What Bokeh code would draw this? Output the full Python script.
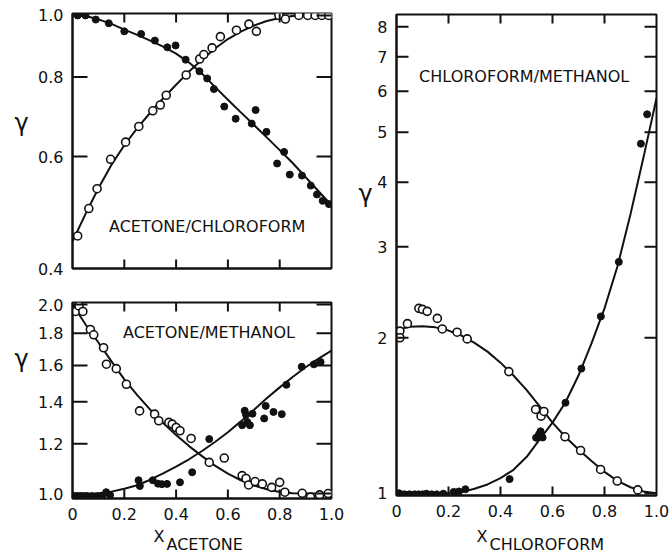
import math

from bokeh.embed import file_html
from bokeh.layouts import column, row
from bokeh.models import FixedTicker, Label, Range1d
from bokeh.plotting import figure
from bokeh.resources import INLINE

FONT = "DejaVu Sans"
INK = "#111111"

# ---- shared x axis (mole fraction) ----
x_ticks = [0, 0.2, 0.4, 0.6, 0.8, 1.0]
x_tick_labels = ["0", "0.2", "0.4", "0.6", "0.8", "1.0"]

# ---- acetone / chloroform (x = mole fraction acetone) ----
ac_open_x = [0.02, 0.063, 0.095, 0.147, 0.205, 0.256, 0.31, 0.339, 0.362, 0.439,
             0.491, 0.507, 0.539, 0.571, 0.633, 0.681, 0.71,
             0.797, 0.822, 0.874, 0.908, 0.937, 0.963, 0.989]
ac_open_y = [0.450, 0.497, 0.534, 0.594, 0.632, 0.669, 0.708, 0.723, 0.749, 0.806,
             0.854, 0.868, 0.889, 0.926, 0.948, 0.969, 0.944,
             1.0, 0.987, 1.0, 1.0, 1.0, 1.0, 1.0]
ac_fill_x = [0.02, 0.05, 0.09, 0.14, 0.20, 0.265, 0.318, 0.366, 0.398, 0.437,
             0.49, 0.52, 0.546, 0.586, 0.63, 0.692, 0.707, 0.749, 0.79, 0.817,
             0.839, 0.886, 0.92, 0.944, 0.966, 0.99]
ac_fill_y = [1.0, 1.0, 0.985, 0.972, 0.944, 0.935, 0.913, 0.891, 0.897, 0.852,
             0.817, 0.796, 0.766, 0.719, 0.688, 0.676, 0.710, 0.656, 0.585, 0.610,
             0.562, 0.560, 0.540, 0.523, 0.511, 0.505]
ac_curve_x = [0, 0.05, 0.1, 0.15, 0.2, 0.25, 0.3, 0.35, 0.4, 0.45, 0.5,
              0.55, 0.6, 0.65, 0.7, 0.75, 0.8, 0.85, 0.9, 0.95, 1.0]
ac_curve_open = [0.441, 0.487, 0.535, 0.582, 0.625, 0.665, 0.703, 0.741, 0.778, 0.816, 0.852,
                 0.887, 0.918, 0.943, 0.964, 0.980, 0.991, 0.998, 1.0, 1.0, 1.0]
ac_curve_fill = [1.0, 0.998, 0.986, 0.970, 0.950, 0.932, 0.913, 0.893, 0.871, 0.843, 0.810,
                 0.772, 0.737, 0.704, 0.673, 0.643, 0.614, 0.586, 0.557, 0.529, 0.503]

# ---- acetone / methanol (x = mole fraction acetone) ----
am_open_x = [0.012, 0.025, 0.04, 0.069, 0.082, 0.12, 0.131, 0.169, 0.208, 0.259,
             0.317, 0.333, 0.372, 0.385, 0.40, 0.415, 0.458, 0.528, 0.586, 0.655,
             0.67, 0.68, 0.705, 0.733, 0.769, 0.80, 0.82, 0.887, 0.919, 0.954, 0.987]
am_open_y = [1.95, 1.99, 1.95, 1.825, 1.79, 1.707, 1.607, 1.581, 1.493, 1.354,
             1.338, 1.306, 1.298, 1.29, 1.274, 1.259, 1.224, 1.121, 1.139, 1.068,
             1.057, 1.032, 1.045, 1.036, 1.023, 1.042, 1.005, 1.001, 0.987, 0.995, 1.0]
am_fill_x = [0.005, 0.02, 0.035, 0.055, 0.075, 0.095, 0.115, 0.13, 0.145, 0.255,
             0.26, 0.31, 0.33, 0.345, 0.365, 0.415, 0.462, 0.528, 0.655, 0.665,
             0.67, 0.675, 0.685, 0.695, 0.74, 0.746, 0.776, 0.808, 0.826, 0.885,
             0.932, 0.958]
am_fill_y = [0.99, 0.99, 0.99, 0.99, 0.99, 0.99, 0.99, 1.005, 0.995, 1.05,
             1.028, 1.05, 1.037, 1.035, 1.036, 1.042, 1.081, 1.221, 1.285, 1.355,
             1.335, 1.30, 1.285, 1.34, 1.317, 1.379, 1.349, 1.338, 1.49, 1.592,
             1.606, 1.62]
am_curve_x = ac_curve_x
am_curve_open = [2.0, 1.86, 1.74, 1.625, 1.52, 1.435, 1.36, 1.295, 1.24, 1.19, 1.147,
                 1.108, 1.076, 1.05, 1.03, 1.016, 1.006, 1.001, 1.0, 1.0, 1.0]
am_curve_fill = [1.0, 1.0, 1.001, 1.007, 1.018, 1.031, 1.052, 1.077, 1.104, 1.134, 1.169,
                 1.208, 1.252, 1.303, 1.359, 1.418, 1.476, 1.533, 1.589, 1.640, 1.689]

# ---- chloroform / methanol (x = mole fraction chloroform) ----
cm_open_x = [0.013, 0.013, 0.042, 0.086, 0.10, 0.118, 0.157, 0.176, 0.233, 0.272,
             0.432, 0.535, 0.556, 0.567, 0.648, 0.708, 0.785, 0.849, 0.928]
cm_open_y = [2.06, 2.0, 2.13, 2.28, 2.27, 2.25, 2.18, 2.08, 2.05, 1.99,
             1.72, 1.453, 1.41, 1.44, 1.286, 1.21, 1.112, 1.056, 1.015]
cm_fill_x = [0.01, 0.03, 0.05, 0.07, 0.085, 0.1, 0.115, 0.135, 0.155, 0.18,
             0.22, 0.24, 0.265, 0.435, 0.537, 0.548, 0.554, 0.562, 0.65, 0.711,
             0.786, 0.855, 0.94, 0.964]
cm_fill_y = [1.0, 0.995, 0.995, 0.995, 0.995, 0.995, 0.998, 0.995, 0.995, 0.998,
             1.006, 1.008, 1.018, 1.065, 1.281, 1.30, 1.318, 1.282, 1.497, 1.743,
             2.2, 2.805, 4.75, 5.415]
cm_curve_x = ac_curve_x
cm_curve_open = [2.07, 2.10, 2.105, 2.095, 2.065, 2.02, 1.955, 1.88, 1.79, 1.69, 1.585,
                 1.475, 1.37, 1.285, 1.215, 1.155, 1.10, 1.057, 1.027, 1.008, 1.0]
cm_curve_fill = [1.0, 1.0, 1.0, 1.0, 1.0, 1.005, 1.02, 1.04, 1.07, 1.11, 1.175,
                 1.27, 1.37, 1.50, 1.69, 1.95, 2.28, 2.75, 3.47, 4.47, 5.82]

# ---- y axis ticks per panel ----
ac_y_ticks = [0.4, 0.6, 0.8, 1.0]
ac_y_labels = ["0.4", "0.6", "0.8", "1.0"]
am_y_ticks = [1.0, 1.2, 1.4, 1.6, 1.8, 2.0]
am_y_labels = ["1.0", "1.2", "1.4", "1.6", "1.8", "2.0"]
cm_y_ticks = [1, 2, 3, 4, 5, 6, 7, 8]
cm_y_labels = ["1", "2", "3", "4", "5", "6", "7", "8"]


def style_axis(ax, show_labels):
    ax.axis_line_color = INK
    ax.axis_line_width = 2
    ax.major_tick_line_color = None
    ax.minor_tick_line_color = None
    ax.major_tick_in = 0
    ax.major_tick_out = 0
    ax.major_label_standoff = 9
    ax.major_label_text_font = FONT
    ax.major_label_text_font_size = "16px"
    ax.major_label_text_color = INK if show_labels else None


def inward_ticks(p, fw, fh, y_ticks, y_tick_len, x_tick_len=9):
    """Tick marks on all four frame edges, drawn as thin filled bars inside the frame."""
    y0, y1 = p.y_range.start, p.y_range.end
    per_px = (math.log10(y1) - math.log10(y0)) / fh
    half_x = 10 ** (x_tick_len / 2 * per_px)
    inner_x = x_ticks[1:-1]
    n = len(inner_x)
    p.rect(x=inner_x + inner_x, y=[y0 * half_x] * n + [y1 / half_x] * n,
           width=2, height=x_tick_len, width_units="screen", height_units="screen",
           fill_color=INK, line_color=None)
    inner_y = [t for t in y_ticks if y0 < t < y1]
    m = len(inner_y)
    cx = y_tick_len / 2 / fw
    p.rect(x=[cx] * m + [1 - cx] * m, y=inner_y + inner_y,
           width=y_tick_len, height=2, width_units="screen", height_units="screen",
           fill_color=INK, line_color=None)


def panel(width, height, borders, y_range, y_ticks, y_labels, x_labels_shown):
    left, right, top, bottom = borders
    p = figure(width=width, height=height, x_range=Range1d(0, 1.0),
               y_range=Range1d(*y_range), y_axis_type="log",
               output_backend="svg", toolbar_location=None,
               min_border_left=left, min_border_right=right,
               min_border_top=top, min_border_bottom=bottom)
    p.grid.visible = False
    p.outline_line_color = INK
    p.outline_line_width = 2
    p.background_fill_color = "white"
    p.border_fill_color = "white"

    bottom_ax = p.below[0]
    left_ax = p.left[0]
    bottom_ax.ticker = FixedTicker(ticks=x_ticks)
    bottom_ax.major_label_overrides = dict(zip(x_ticks, x_tick_labels))
    left_ax.ticker = FixedTicker(ticks=y_ticks)
    left_ax.major_label_overrides = dict(zip(y_ticks, y_labels))
    style_axis(bottom_ax, x_labels_shown)
    style_axis(left_ax, True)
    return p


def text_strip(width, height):
    """A bare canvas that only holds text."""
    s = figure(width=width, height=height, x_range=Range1d(0, width),
               y_range=Range1d(0, height), output_backend="svg",
               toolbar_location=None, x_axis_location=None, y_axis_location=None,
               min_border_left=0, min_border_right=0,
               min_border_top=0, min_border_bottom=0)
    s.grid.visible = False
    s.outline_line_color = None
    s.background_fill_color = "white"
    s.border_fill_color = "white"
    return s


def draw_series(p, cx, c_open, c_fill, ox, oy, fx, fy):
    p.line(cx, c_open, line_color=INK, line_width=2)
    p.line(cx, c_fill, line_color=INK, line_width=2)
    p.scatter(ox, oy, marker="circle", size=8, fill_color="white",
              line_color=INK, line_width=1.6)
    p.scatter(fx, fy, marker="circle", size=7, fill_color=INK, line_color=INK)


def text_label(p, x, y, text, size, align="center", baseline="middle", units="data"):
    p.add_layout(Label(x=x, y=y, x_units=units, y_units=units, text=text,
                       text_font=FONT, text_font_size=size, text_color=INK,
                       text_align=align, text_baseline=baseline))


def subscript_title(s, x, main, sub):
    text_label(s, x, 19, main, "16px", align="right", baseline="alphabetic", units="screen")
    text_label(s, x + 2, 11, sub, "16px", align="left", baseline="alphabetic", units="screen")


# Acetone / chloroform
p1 = panel(312, 285, (38, 15, 13, 17), (0.4, 1.007), ac_y_ticks, ac_y_labels, False)
draw_series(p1, ac_curve_x, ac_curve_open, ac_curve_fill,
            ac_open_x, ac_open_y, ac_fill_x, ac_fill_y)
inward_ticks(p1, 259, 255, ac_y_ticks, 15)
text_label(p1, 0.52, 0.466, "ACETONE/CHLOROFORM", "16px")

# Acetone / methanol
p2 = panel(312, 241, (38, 15, 17, 28), (0.982, 2.015), am_y_ticks, am_y_labels, True)
draw_series(p2, am_curve_x, am_curve_open, am_curve_fill,
            am_open_x, am_open_y, am_fill_x, am_fill_y)
inward_ticks(p2, 259, 196, am_y_ticks, 15)
text_label(p2, 0.527, 1.807, "ACETONE/METHANOL", "16px")

# gamma labels left of the two stacked panels
left_strip = text_strip(34, 526)
text_label(left_strip, 21, 407, "γ", "24px")
text_label(left_strip, 21, 149, "γ", "24px")

# Chloroform / methanol
p3 = panel(298, 526, (24, 14, 14, 31), (0.99, 8.45), cm_y_ticks, cm_y_labels, True)
draw_series(p3, cm_curve_x, cm_curve_open, cm_curve_fill,
            cm_open_x, cm_open_y, cm_fill_x, cm_fill_y)
inward_ticks(p3, 260, 481, cm_y_ticks, 12)
text_label(p3, 0.491, 6.41, "CHLOROFORM/METHANOL", "16px")

mid_strip = text_strip(26, 526)
text_label(mid_strip, 19, 330, "γ", "24px")

# x-axis titles with subscripts, under both bottom panels
bottom_strip = text_strip(670, 29)
subscript_title(bottom_strip, 164, "X", "ACETONE")
subscript_title(bottom_strip, 487, "X", "CHLOROFORM")

layout = column(row(left_strip, column(p1, p2), mid_strip, p3), bottom_strip)
open("out.html", "w").write(file_html(layout, INLINE))
